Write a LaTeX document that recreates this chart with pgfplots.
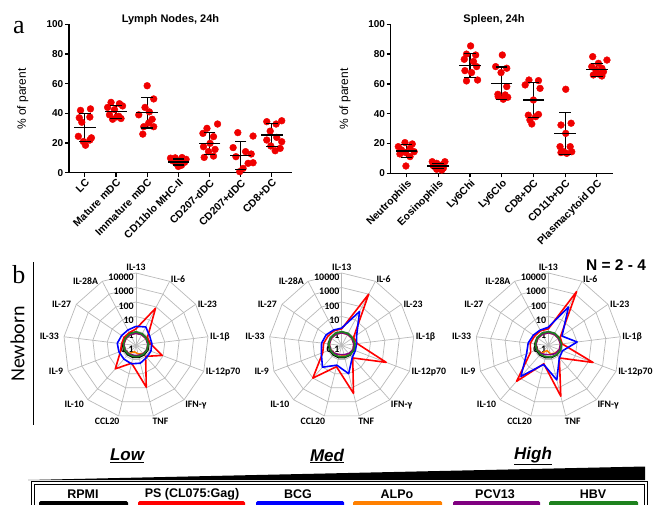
\documentclass[border=0pt]{standalone}
\usepackage{pgfplots}
\pgfplotsset{compat=1.18}
\usepackage{pgfplotstable}
\usepgfplotslibrary{polar}
\usepackage{fontspec}
\setmainfont{Liberation Sans}
\newfontfamily\carlito{Carlito}
\newfontfamily\seriff{Liberation Serif}

\definecolor{cRed}{RGB}{255,0,0}
\definecolor{cBlue}{RGB}{0,0,255}
\definecolor{cOrange}{RGB}{255,128,0}
\definecolor{cPurple}{RGB}{128,0,128}
\definecolor{cGreen}{RGB}{30,130,30}
\definecolor{web}{RGB}{185,185,185}
\definecolor{dotred}{RGB}{240,0,0}

% ---------- panel a: lymph nodes ----------
\pgfplotstableread{
x y
-0.14 42
0.18 43
-0.18 37
0.16 37.5
-0.10 34
-0.21 24.5
0.21 23.5
-0.05 21
0.16 22
0.02 18.5
0.84 47.4
1.11 46.5
0.73 44
1.21 45
0.95 42.5
0.79 39
1.09 38
0.89 36
1.16 36.5
1.02 37.6
2.00 58.6
2.21 49.7
1.93 44
1.73 39
2.07 41
2.16 36
2.21 31
1.89 31
1.86 26
2.05 33.5
2.75 9.8
2.90 10
3.12 10.2
3.25 9
2.82 8
3.05 7.5
3.20 7
2.95 6
3.10 5
3.00 4.2
4.26 32.8
3.92 29.9
3.79 26.5
4.13 24.3
4.02 19.8
3.81 17.5
4.18 15.7
3.97 14.2
4.13 11.2
3.83 10.3
4.91 27
5.40 24.7
4.76 16.9
5.16 14.2
5.34 12.6
4.85 10.8
5.24 6.3
5.40 6.7
5.08 2.9
4.97 0.7
5.84 34.4
6.32 35
6.14 32.8
5.95 28
6.16 23.8
5.84 22
6.32 20.9
5.97 18
6.27 16.4
6.11 14.8
}\lnpts
\pgfplotstableread{
x m sd
0 30.4 9.3
1 41.0 4.3
2 40.3 10.2
3 7.2 2.0
4 19.8 7.3
5 11.5 9.5
6 25.4 8.0
}\lnstat

% ---------- panel a: spleen ----------
\pgfplotstableread{
x y
-0.05 20.6
0.18 19.7
-0.26 17.9
0.11 16.8
-0.16 15.7
0.24 14.5
-0.03 13.9
-0.21 13
0.11 11.2
-0.02 4.9
0.81 7.8
1.21 7.8
0.95 6.7
1.11 5.6
0.89 4.5
1.05 3.8
1.16 3.4
0.95 2.7
1.11 2.2
0.84 5.1
2.02 85.5
1.89 80
2.18 79.4
1.82 76.5
2.11 75
2.21 71.6
1.84 68.9
2.05 67.6
2.24 62.6
1.89 62
3.02 79.4
2.81 71.6
3.16 70.5
2.98 67.6
3.16 58.2
2.88 53
3.11 52.6
2.89 51.5
3.05 49.7
3.19 51
3.86 62.6
4.16 62.2
3.74 59.3
4.21 57
4.00 49.2
3.84 39
4.07 38
4.16 39.5
3.89 35.8
3.95 33.1
5.02 56.4
4.87 32.4
5.19 33.6
5.02 26.8
4.84 17.9
5.16 17.9
4.95 14.5
5.21 14.5
5.05 13.4
4.87 13.9
5.87 78.3
6.32 76
6.05 73.8
5.84 71.6
6.16 70.5
5.97 69.4
6.21 68.2
6.05 66.7
5.89 66
6.16 65.3
}\sppts
\pgfplotstableread{
x m sd
0 15.0 4.3
1 4.9 1.5
2 72.3 8.0
3 60.4 11.0
4 49.2 11.7
5 26.8 14.0
6 69.4 4.3
}\spstat

% ---------- panel b: radar data (IL-13 first, clockwise, IL-13 repeated to close) ----------
\pgfplotstableread{
ang rpmi ps bcg alpo pcv hbv
90 0.80 1.4 2.1 0.70 0.70 0.89
62.31 0.80 79 2.8 0.70 0.70 0.80
34.62 0.80 0.9 1.4 0.70 0.68 0.76
6.92 0.78 1.0 1.26 0.68 0.66 0.71
339.23 0.75 8.5 1.26 0.65 0.63 0.66
311.54 0.72 1.0 1.26 0.55 0.58 0.63
283.85 0.70 91 1.8 0.40 0.50 0.60
256.15 0.70 1.8 2.0 0.28 0.50 0.60
228.46 0.72 14 1.8 0.55 0.58 0.63
200.77 0.80 1.4 1.8 0.68 0.66 0.71
173.08 0.85 1.0 2.0 0.70 0.70 0.76
145.38 0.85 1.0 1.6 0.70 0.70 0.79
117.69 0.85 1.0 1.6 0.70 0.70 0.83
90 0.80 1.4 2.1 0.70 0.70 0.89
}\lowtab
\pgfplotstableread{
ang rpmi ps bcg alpo pcv hbv
90 0.85 1.4 1.6 0.75 0.75 0.90
62.31 0.85 1000 45 0.75 0.75 0.85
34.62 0.82 1.0 1.8 0.72 0.72 0.80
6.92 0.80 1.2 1.1 0.70 0.70 0.85
339.23 0.78 190 1.0 0.68 0.68 0.80
311.54 0.75 1.4 1.26 0.60 0.55 0.70
283.85 0.72 250 10 0.50 0.45 0.65
256.15 0.72 3.2 2.5 0.45 0.45 0.63
228.46 0.75 100 10 0.55 0.55 0.66
200.77 0.80 2.5 3.2 0.68 0.68 0.72
173.08 0.85 1.8 2.5 0.72 0.72 0.80
145.38 0.85 1.4 2.0 0.75 0.75 0.85
117.69 0.85 1.4 1.6 0.75 0.75 0.88
90 0.85 1.4 1.6 0.75 0.75 0.90
}\medtab
\pgfplotstableread{
ang rpmi ps bcg alpo pcv hbv
90 0.85 1.4 1.8 0.75 0.75 0.90
62.31 0.85 1580 100 0.75 0.75 0.88
34.62 0.82 1.0 1.4 0.72 0.72 0.80
6.92 0.80 0.9 10 0.70 0.70 0.85
339.23 0.78 200 1.1 0.65 0.65 0.80
311.54 0.75 1.4 1.4 0.50 0.55 0.72
283.85 0.72 400 28 0.40 0.45 0.66
256.15 0.72 2.0 2.2 0.23 0.45 0.63
228.46 0.75 200 70 0.50 0.55 0.66
200.77 0.80 2.0 4.0 0.68 0.68 0.72
173.08 0.85 1.8 2.5 0.72 0.72 0.80
145.38 0.85 1.4 1.8 0.75 0.75 0.85
117.69 0.85 1.4 1.6 0.75 0.75 0.88
90 0.85 1.4 1.8 0.75 0.75 0.90
}\hightab

\pgfplotsset{
  dots/.style={only marks, mark=*, mark size=3.4pt, mark options={draw=dotred, fill=dotred}},
  meanbar/.style={only marks, mark=-, mark size=10.8pt, mark options={line width=1.2pt, draw=black}},
  sdcap/.style={only marks, mark=-, mark size=5.8pt, mark options={line width=1.2pt, draw=black}},
  sdline/.style={draw=none, mark=none, error bars/.cd, y dir=both, y explicit, error mark=none, error bar style={draw=black, line width=1.2pt}},
  prism/.style={scale only axis, ymin=0, ymax=100, axis lines*=left,
    axis line style={line width=1.2pt}, tick style={black, line width=1.2pt},
    tick align=outside, major tick length=4pt, xtick={0,...,6}, ytick={0,20,...,100},
    /pgf/number format/assume math mode=true,
    yticklabel style={font=\bfseries\fontsize{10}{12}\selectfont, inner sep=1.5pt},
    xticklabel style={rotate=45, anchor=north east, font=\bfseries\fontsize{10.5}{12}\selectfont, inner sep=1pt},
    clip=false},
  rad/.style={no marks, line width=1.6pt, line join=round, y filter/.expression={ln(y)/2.302585+1}},
  radar/.style={anchor=center, scale only axis, width=145pt, height=145pt,
    xmin=0, xmax=360, ymin=0, ymax=5, hide axis, clip=false},
}

\newcommand\rlab[3]{\node[inner sep=1pt, #2, font=\carlito\bfseries\fontsize{9.8}{10}\selectfont] at (axis cs:#1,5) {#3};}
\newcommand\rnum[2]{\node[anchor=north east, inner sep=0.5pt, xshift=-1.5pt, font=\carlito\bfseries\fontsize{10}{10}\selectfont] at (axis cs:90,#1) {#2};}
\newcommand\radarframe{%
  \pgfplotsinvokeforeach{1,2,3,4,5}{\addplot[web, line width=0.7pt, no marks] table[x=ang, y expr=##1] {\lowtab};}
  \pgfplotsinvokeforeach{90,62.31,34.62,6.92,339.23,311.54,283.85,256.15,228.46,200.77,173.08,145.38,117.69}{\draw[web, line width=0.7pt] (axis cs:0,0) -- (axis cs:##1,5);}
  \rlab{90}{anchor=south, yshift=1pt}{IL-13}
  \rlab{62.31}{anchor=west, yshift=2pt}{IL-6}
  \rlab{34.62}{anchor=west, xshift=1pt}{IL-23}
  \rlab{6.92}{anchor=west, xshift=1pt}{IL-1β}
  \rlab{339.23}{anchor=west, xshift=1pt, yshift=-1pt}{IL-12p70}
  \rlab{311.54}{anchor=north west}{IFN-γ}
  \rlab{283.85}{anchor=north west, xshift=-2pt, yshift=-1pt}{TNF}
  \rlab{256.15}{anchor=north east, xshift=2pt, yshift=-1pt}{CCL20}
  \rlab{228.46}{anchor=north east, xshift=-3pt}{IL-10}
  \rlab{200.77}{anchor=east, xshift=-4pt}{IL-9}
  \rlab{173.08}{anchor=east, xshift=-4pt}{IL-33}
  \rlab{145.38}{anchor=east, xshift=-4pt}{IL-27}
  \rlab{117.69}{anchor=east, xshift=-3pt}{IL-28A}
  \rnum{5}{10000}\rnum{4}{1000}\rnum{3}{100}\rnum{2}{10}\rnum{1}{1}\rnum{0}{0.1}
}
\newcommand\radarseries[1]{%
  \addplot[rad, black] table[x=ang, y=rpmi] {#1};
  \addplot[rad, cRed] table[x=ang, y=ps] {#1};
  \addplot[rad, cBlue] table[x=ang, y=bcg] {#1};
  \addplot[rad, cOrange] table[x=ang, y=alpo] {#1};
  \addplot[rad, cPurple] table[x=ang, y=pcv] {#1};
  \addplot[rad, cGreen] table[x=ang, y=hbv] {#1};
}

\begin{document}
\begin{tikzpicture}
\path[use as bounding box] (0pt,0pt) rectangle (655pt,504pt);

% ----- a: lymph nodes -----
\begin{axis}[prism, at={(69pt,331.3pt)}, anchor=south west, width=223pt, height=148.4pt,
  xmin=-0.51, xmax=6.65,
  xticklabels={LC, Mature mDC, Immature mDC, CD11blo MHC-II, CD207-dDC, CD207+dDC, CD8+DC}]
\addplot[dots] table {\lnpts};
\addplot[sdline] table[x=x, y=m, y error=sd] {\lnstat};
\addplot[sdcap] table[x=x, y expr=\thisrow{m}+\thisrow{sd}] {\lnstat};
\addplot[sdcap] table[x=x, y expr=\thisrow{m}-\thisrow{sd}] {\lnstat};
\addplot[meanbar] table[x=x, y=m] {\lnstat};
\end{axis}

% ----- a: spleen -----
\begin{axis}[prism, at={(390.7pt,330.7pt)}, anchor=south west, width=222.6pt, height=149pt,
  xmin=-0.5, xmax=6.52,
  xticklabels={Neutrophils, Eosinophils, Ly6Chi, Ly6Clo, CD8+DC, CD11b+DC, Plasmacytoid DC}]
\addplot[dots] table {\sppts};
\addplot[sdline] table[x=x, y=m, y error=sd] {\spstat};
\addplot[sdcap] table[x=x, y expr=\thisrow{m}+\thisrow{sd}] {\spstat};
\addplot[sdcap] table[x=x, y expr=\thisrow{m}-\thisrow{sd}] {\spstat};
\addplot[meanbar] table[x=x, y=m] {\spstat};
\end{axis}

% ----- b: radar charts -----
\begin{polaraxis}[radar, at={(136pt,158.5pt)}]
\radarframe
\radarseries{\lowtab}
\end{polaraxis}
\begin{polaraxis}[radar, at={(341.7pt,158.5pt)}]
\radarframe
\radarseries{\medtab}
\end{polaraxis}
\begin{polaraxis}[radar, at={(548.3pt,158.5pt)}]
\radarframe
\radarseries{\hightab}
\end{polaraxis}

\begin{scope}[x=1pt,y=1pt]
\node[font=\bfseries\fontsize{11}{13}\selectfont] at (170.5,484) {Lymph Nodes, 24h};
\node[font=\bfseries\fontsize{11}{13}\selectfont] at (494,484) {Spleen, 24h};
\node[rotate=90, font=\fontsize{12}{14}\selectfont] at (22.7,405) {\% of parent};
\node[rotate=90, font=\fontsize{12}{14}\selectfont] at (345,405) {\% of parent};
\node[anchor=base, font=\seriff\fontsize{26}{28}\selectfont] at (19,470.7) {a};

\node[anchor=base, font=\seriff\fontsize{26}{28}\selectfont] at (19,220.7) {b};
\node[rotate=90, font=\carlito\fontsize{20}{22}\selectfont] at (17.5,160) {Newborn};
\draw[line width=1.2pt] (33.3,242) -- (33.3,79);
\node[font=\bfseries\fontsize{15.5}{17}\selectfont] at (616,239) {N = 2 - 4};

% ----- dose scale and legend -----
\node[font=\bfseries\itshape\fontsize{17}{19}\selectfont] at (127,48) {\underline{Low}};
\node[font=\bfseries\itshape\fontsize{17}{19}\selectfont] at (327,48) {\underline{Med}};
\node[font=\bfseries\itshape\fontsize{17}{19}\selectfont] at (533,48) {\underline{High}};
\fill (28,24) -- (645,37.5) -- (645,24) -- cycle;
\draw[line width=0.9pt] (31,-10) -- (31,22.3) -- (647,22.3) -- (647,-10);
\draw[line width=0.9pt] (34,-10) -- (34,19.5) -- (644,19.5) -- (644,-10);
\begin{scope}[font=\bfseries\fontsize{12.5}{14}\selectfont]
\node at (83,10) {RPMI};
\node at (192,10) {PS (CL075:Gag)};
\node at (298,10) {BCG};
\node at (397,10) {ALPo};
\node at (495,10) {PCV13};
\node at (593,10) {HBV};
\end{scope}
\fill[black, rounded corners=1.5pt] (39,-8) rectangle (128,3);
\fill[cRed, rounded corners=1.5pt] (138,-8) rectangle (245,3);
\fill[cBlue, rounded corners=1.5pt] (256,-8) rectangle (344,3);
\fill[cOrange, rounded corners=1.5pt] (353,-8) rectangle (442,3);
\fill[cPurple, rounded corners=1.5pt] (453,-8) rectangle (540,3);
\fill[cGreen, rounded corners=1.5pt] (549,-8) rectangle (638,3);
\end{scope}
\end{tikzpicture}
\end{document}
